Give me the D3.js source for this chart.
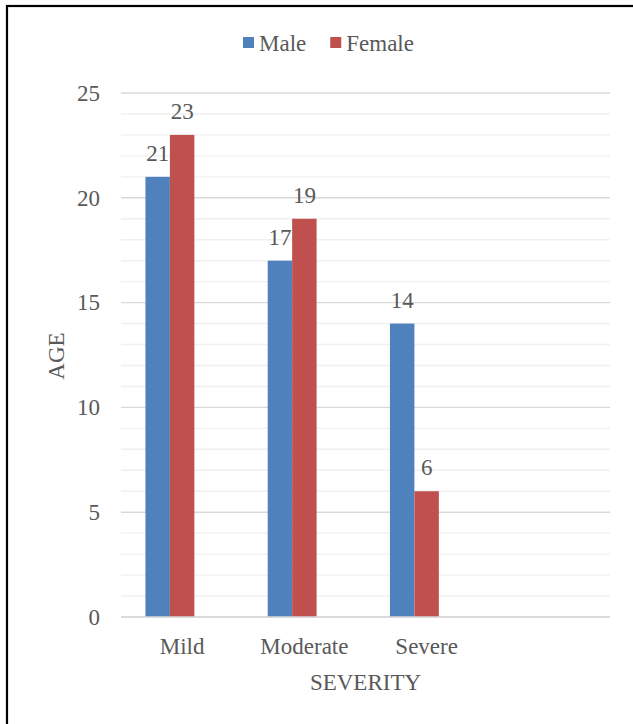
<!DOCTYPE html>
<html>
<head>
<meta charset="utf-8">
<script src="https://cdn.jsdelivr.net/npm/d3@7"></script>
<style>
  body { margin: 0; background: #fff; }
  text { font-family: "Liberation Serif", "Times New Roman", serif; fill: #595959; }
</style>
</head>
<body>
<div id="chart"></div>
<script>
// data
const categories = ["Mild", "Moderate", "Severe", ""];
const seriesNames = ["Male", "Female"];
const maleValues = [21, 17, 14, null];
const femaleValues = [23, 19, 6, null];
const yTicks = [0, 5, 10, 15, 20, 25];
const colors = ["#4F81BD", "#C0504D"];

const width = 633, height = 724;
const margin = { left: 121, right: 23, top: 93, bottom: 107 };
const serif = "'Liberation Serif', 'Times New Roman', serif";

const svg = d3.select("#chart").append("svg")
    .attr("width", width)
    .attr("height", height);

// outer frame (runs off right and bottom edge like the original crop)
svg.append("rect")
    .attr("x", 7).attr("y", 6)
    .attr("width", 700).attr("height", 760)
    .attr("fill", "none")
    .attr("stroke", "#000")
    .attr("stroke-width", 2.2);

const x0 = d3.scaleBand()
    .domain(categories)
    .range([margin.left, width - margin.right])
    .padding(0);

// Excel-like layout: room for a third (empty) series slot, gap width 200%
const x1 = d3.scaleBand()
    .domain(seriesNames.concat(["_blank"]))
    .range([0, x0.bandwidth()])
    .paddingInner(0)
    .paddingOuter(1);

const y = d3.scaleLinear()
    .domain([0, 25])
    .range([height - margin.bottom, margin.top]);

// minor gridlines
svg.append("g").selectAll("line")
    .data(d3.range(1, 25).filter(v => v % 5 != 0))
    .enter().append("line")
    .attr("x1", margin.left).attr("x2", width - margin.right)
    .attr("y1", d => y(d)).attr("y2", d => y(d))
    .attr("stroke", "#F0F0F0")
    .attr("stroke-width", 1.4);

// major gridlines
svg.append("g").selectAll("line")
    .data(yTicks)
    .enter().append("line")
    .attr("x1", margin.left).attr("x2", width - margin.right)
    .attr("y1", d => y(d)).attr("y2", d => y(d))
    .attr("stroke", "#D9D9D9")
    .attr("stroke-width", 1.4);

// y tick labels
const yAxis = svg.append("g")
    .attr("transform", "translate(" + (margin.left - 21) + ",0)")
    .call(d3.axisLeft(y).tickValues(yTicks).tickSize(0).tickPadding(0));
yAxis.attr("font-family", null);
yAxis.select(".domain").remove();
yAxis.selectAll("text")
    .style("font-family", serif)
    .style("font-size", "23px")
    .attr("fill", "#595959");

// bars
const allSeries = [maleValues, femaleValues];
allSeries.forEach(function (vals, si) {
    let rows = categories.map((c, i) => ({ cat: c, value: vals[i] })).filter(d => d.value != null);

    svg.append("g").selectAll("rect")
        .data(rows)
        .enter().append("rect")
        .attr("x", d => x0(d.cat) + x1(seriesNames[si]))
        .attr("width", x1.bandwidth())
        .attr("y", d => y(d.value))
        .attr("height", d => y(0) - y(d.value))
        .attr("fill", colors[si]);

    // data labels
    svg.append("g").selectAll("text")
        .data(rows)
        .enter().append("text")
        .attr("x", d => x0(d.cat) + x1(seriesNames[si]) + x1.bandwidth() / 2)
        .attr("y", d => y(d.value) - 16)
        .attr("text-anchor", "middle")
        .style("font-family", serif)
        .style("font-size", "23px")
        .text(d => d.value);
});

// x baseline
svg.append("line")
    .attr("x1", margin.left).attr("x2", width - margin.right)
    .attr("y1", y(0)).attr("y2", y(0))
    .attr("stroke", "#D9D9D9")
    .attr("stroke-width", 1.4);

// x category labels
const xAxis = svg.append("g")
    .attr("transform", "translate(0," + y(0) + ")")
    .call(d3.axisBottom(x0).tickSize(0).tickPadding(0));
xAxis.attr("font-family", null);
xAxis.select(".domain").remove();
xAxis.selectAll("text")
    .attr("dy", null)
    .attr("y", 37)
    .style("font-family", serif)
    .style("font-size", "23px")
    .attr("fill", "#595959");

// axis titles
svg.append("text")
    .attr("x", (margin.left + width - margin.right) / 2)
    .attr("y", 690)
    .attr("text-anchor", "middle")
    .style("font-family", serif)
    .style("font-size", "23px")
    .text("SEVERITY");

svg.append("text")
    .attr("transform", "translate(64,356) rotate(-90)")
    .attr("text-anchor", "middle")
    .style("font-family", serif)
    .style("font-size", "23px")
    .text("AGE");

// legend
const legend = svg.append("g");
let lx = 243;
seriesNames.forEach(function (name, i) {
    legend.append("rect")
        .attr("x", lx).attr("y", 37)
        .attr("width", 11).attr("height", 11)
        .attr("fill", colors[i]);
    const t = legend.append("text")
        .attr("x", lx + 16)
        .attr("y", 51)
        .style("font-family", serif)
        .style("font-size", "23px")
        .text(name);
    lx += 16 + t.node().getComputedTextLength() + 24;
});
</script>
</body>
</html>
